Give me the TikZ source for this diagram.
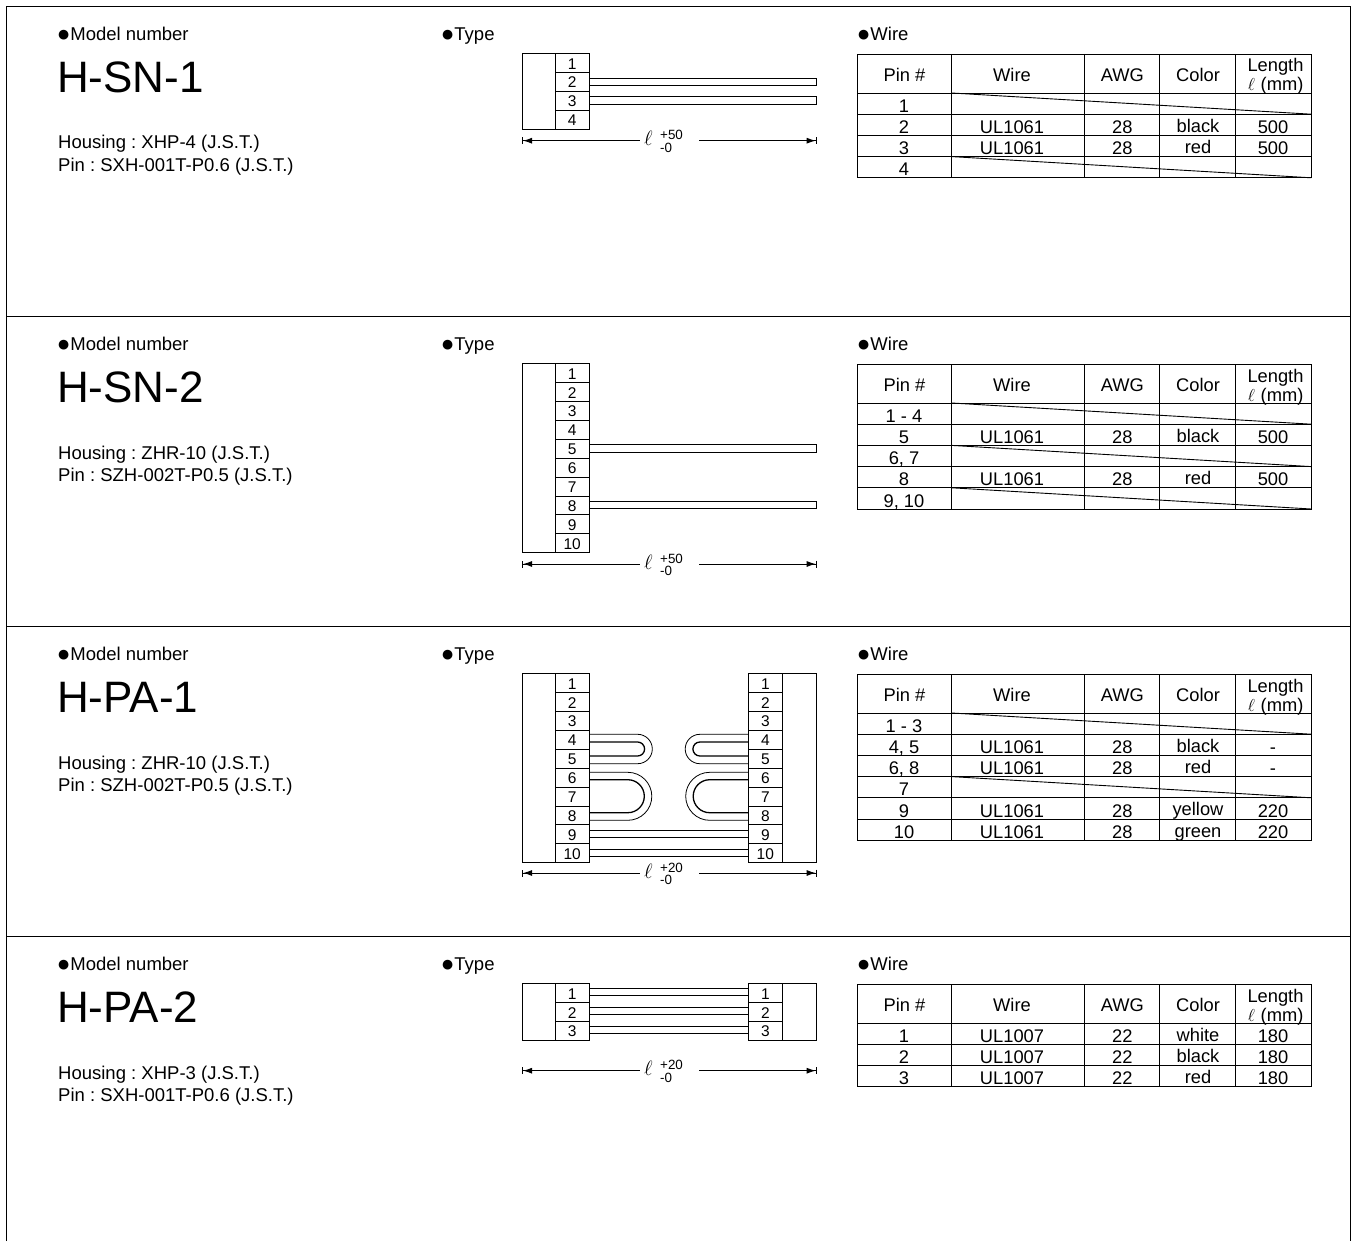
\documentclass[tikz,border=0pt]{standalone}
\usepackage{fontspec}
\setmainfont{Liberation Sans}
\usetikzlibrary{arrows.meta}
\frenchspacing

\tikzset{
    frameline/.style={line width=0.9pt},
    headtext/.style={anchor=base west,inner sep=0pt,font=\fontsize{18.5}{20}\selectfont},
    modeltext/.style={anchor=base west,inner sep=0pt,font=\fontsize{44}{46}\selectfont},
    pintext/.style={anchor=base,inner sep=0pt,font=\fontsize{15.5}{17}\selectfont},
    celltext/.style={anchor=base,inner sep=0pt,font=\fontsize{18.3}{20}\selectfont},
    tolertext/.style={anchor=base west,inner sep=0pt,font=\fontsize{13.4}{15}\selectfont},
    wireline/.style={line width=0.8pt},
    loopline/.style={line width=1.3pt},
    dimline/.style={line width=1pt},
    dimleft/.style={dimline,{Bar[width=7pt]Latex[length=9pt,width=6pt]}-},
    dimright/.style={dimline,-{Latex[length=9pt,width=6pt]Bar[width=7pt]}}
}

\newcommand{\headdot}{\raisebox{-0.7pt}{\scalebox{1.22}{●}}}

% Section header and part texts
\newcommand{\sheethead}[3]{
    \node (modelhead) at (56.6,40.7) [headtext] {\headdot Model number};
    \node (typehead) at (440.6,40.7) [headtext] {\headdot Type};
    \node (wirehead) at (856.6,40.7) [headtext] {\headdot Wire};
    \node (model) at (57,92.3) [modeltext] {#1};
    \node (housing) at (58,149) [headtext] {Housing : #2};
    \node (pin) at (58,171.7) [headtext] {Pin : #3};
}

% Connector body: {body x}{split x}{pin x}{rows}
\newcommand{\pinstack}[4]{
    \draw[frameline] (#1,53.7) rectangle (#3,{53.7+18.9*#4});
    \draw[frameline] (#2,53.7) -- (#2,{53.7+18.9*#4});
    \foreach \r in {1,...,#4} {
        \pgfmathsetmacro{\rowb}{53.7+18.9*\r}
        \draw[frameline] (#2,\rowb) -- (#3,\rowb);
        \node (pin\r) at ({(#2+#3)/2},\rowb-3.5) [pintext] {\r};
    }
}

% Open wire with closed end
\newcommand{\wireend}[1]{
    \draw[wireline] (589,#1-3.7) -- (816.7,#1-3.7) -- (816.7,#1+3.7) -- (589,#1+3.7);
}

% Wire between both connectors
\newcommand{\wirethru}[1]{
    \draw[wireline] (589,#1-3.7) -- (748.3,#1-3.7);
    \draw[wireline] (589,#1+3.7) -- (748.3,#1+3.7);
}

% Length dimension
\newcommand{\lengthdim}[2]{
    \coordinate (dimA) at (522,#1);
    \coordinate (dimB) at (640,#1);
    \coordinate (dimC) at (699,#1);
    \coordinate (dimD) at (816.7,#1);
    \draw[dimleft] (dimA) -- (dimB);
    \draw[dimright] (dimC) -- (dimD);
    \node (ell) at (648.5,#1+5) [anchor=base,inner sep=0pt,font=\fontsize{21}{23}\selectfont] {$\ell$};
    \node (tolup) at (660,#1-1) [tolertext] {#2};
    \node (toldn) at (660,#1+11.5) [tolertext] {-0};
}

% Table frame: {rows}
\newcommand{\wiretable}[1]{
    \pgfmathsetmacro{\tabb}{93+21.2*#1}
    \draw[frameline] (857.3,54) rectangle (1311.3,\tabb);
    \foreach \cx in {951.7,1084.5,1159.7,1235.7} {
        \draw[frameline] (\cx,54) -- (\cx,\tabb);
    }
    \draw[frameline] (857.3,93) -- (1311.3,93);
    \node (hpin) at (904.5,81.7) [celltext] {Pin \#};
    \node (hwire) at (1012,81.7) [celltext] {Wire};
    \node (hawg) at (1122.4,81.7) [celltext] {AWG};
    \node (hcolor) at (1198,81.7) [celltext] {Color};
    \node (hlen) at (1275.5,72) [celltext] {Length};
    \node (hell) at (1251.5,91) [anchor=base,inner sep=0pt,font=\fontsize{17}{19}\selectfont] {$\ell$};
    \node (hmm) at (1282,91) [celltext] {(mm)};
}

% Table row with data: {row}{pin}{wire}{awg}{color}{length}
\newcommand{\wirerow}[6]{
    \pgfmathsetmacro{\rowy}{93+21.2*#1}
    \draw[frameline] (857.3,\rowy) -- (1311.3,\rowy);
    \node (cpin#1) at (904,\rowy-2) [celltext] {#2};
    \node (cwire#1) at (1012,\rowy-2) [celltext] {#3};
    \node (cawg#1) at (1122.4,\rowy-2) [celltext] {#4};
    \node (ccolor#1) at (1198,\rowy-3.2) [celltext] {#5};
    \node (clen#1) at (1273,\rowy-2) [celltext] {#6};
}

% Table row with no wire: {row}{pin}
\newcommand{\blankrow}[2]{
    \pgfmathsetmacro{\rowy}{93+21.2*#1}
    \draw[frameline] (857.3,\rowy) -- (1311.3,\rowy);
    \draw[frameline] (951.7,\rowy-21.2) -- (1311.3,\rowy);
    \node (cpin#1) at (904,\rowy-2) [celltext] {#2};
}

% Looped wires for pins 4-5 and 6-8
\newcommand{\wireloops}{
    \draw[wireline] (589,114.3) -- (637.6,114.3) arc[start angle=90,end angle=-90,radius=14.7pt] -- (589,143.7);
    \draw[loopline] (589,122) -- (637.6,122) arc[start angle=90,end angle=-90,radius=7pt] -- (589,136);
    \draw[wireline] (589,152.3) -- (627.8,152.3) arc[start angle=90,end angle=-90,radius=24pt] -- (589,200.3);
    \draw[loopline] (589,159.7) -- (627.8,159.7) arc[start angle=90,end angle=-90,radius=16.5pt] -- (589,192.7);
}

\begin{document}
\begin{tikzpicture}[x=1pt,y=-1pt]
    \useasboundingbox (0,0) rectangle (1356,1241);

    % Frame
    \draw[frameline] (6,1241) -- (6,6) -- (1350.5,6) -- (1350.5,1241);
    \foreach \fy in {316,626,936} {
        \draw[frameline] (6,\fy) -- (1350.5,\fy);
    }

    % H-SN-1
    \begin{scope}[name prefix=sna-]
        \sheethead{H-SN-1}{XHP-4 (J.S.T.)}{SXH-001T-P0.6 (J.S.T.)}
        \pinstack{522}{555.3}{589}{4}
        \wireend{82}
        \wireend{100.5}
        \lengthdim{140.7}{+50}
        \wiretable{4}
        \blankrow{1}{1}
        \wirerow{2}{2}{UL1061}{28}{black}{500}
        \wirerow{3}{3}{UL1061}{28}{red}{500}
        \blankrow{4}{4}
    \end{scope}

    % H-SN-2
    \begin{scope}[yshift=-310pt,name prefix=snb-]
        \sheethead{H-SN-2}{ZHR-10 (J.S.T.)}{SZH-002T-P0.5 (J.S.T.)}
        \pinstack{522}{555.3}{589}{10}
        \wireend{138.5}
        \wireend{195}
        \lengthdim{254}{+50}
        \wiretable{5}
        \blankrow{1}{1 - 4}
        \wirerow{2}{5}{UL1061}{28}{black}{500}
        \blankrow{3}{6, 7}
        \wirerow{4}{8}{UL1061}{28}{red}{500}
        \blankrow{5}{9, 10}
    \end{scope}

    % H-PA-1
    \begin{scope}[yshift=-620pt,name prefix=paa-]
        \sheethead{H-PA-1}{ZHR-10 (J.S.T.)}{SZH-002T-P0.5 (J.S.T.)}
        \pinstack{522}{555.3}{589}{10}
        \pinstack{816.7}{782.3}{748.3}{10}
        \wireloops
        \begin{scope}[xscale=-1,xshift=-1337.5pt]
            \wireloops
        \end{scope}
        \wirethru{213.9}
        \wirethru{233}
        \lengthdim{253}{+20}
        \wiretable{6}
        \blankrow{1}{1 - 3}
        \wirerow{2}{4, 5}{UL1061}{28}{black}{-}
        \wirerow{3}{6, 8}{UL1061}{28}{red}{-}
        \blankrow{4}{7}
        \wirerow{5}{9}{UL1061}{28}{yellow}{220}
        \wirerow{6}{10}{UL1061}{28}{green}{220}
    \end{scope}

    % H-PA-2
    \begin{scope}[yshift=-930pt,name prefix=pab-]
        \sheethead{H-PA-2}{XHP-3 (J.S.T.)}{SXH-001T-P0.6 (J.S.T.)}
        \pinstack{522}{555.3}{589}{3}
        \pinstack{816.7}{782.3}{748.3}{3}
        \wirethru{62}
        \wirethru{81}
        \wirethru{100}
        \lengthdim{140.7}{+20}
        \wiretable{3}
        \wirerow{1}{1}{UL1007}{22}{white}{180}
        \wirerow{2}{2}{UL1007}{22}{black}{180}
        \wirerow{3}{3}{UL1007}{22}{red}{180}
    \end{scope}
\end{tikzpicture}
\end{document}
